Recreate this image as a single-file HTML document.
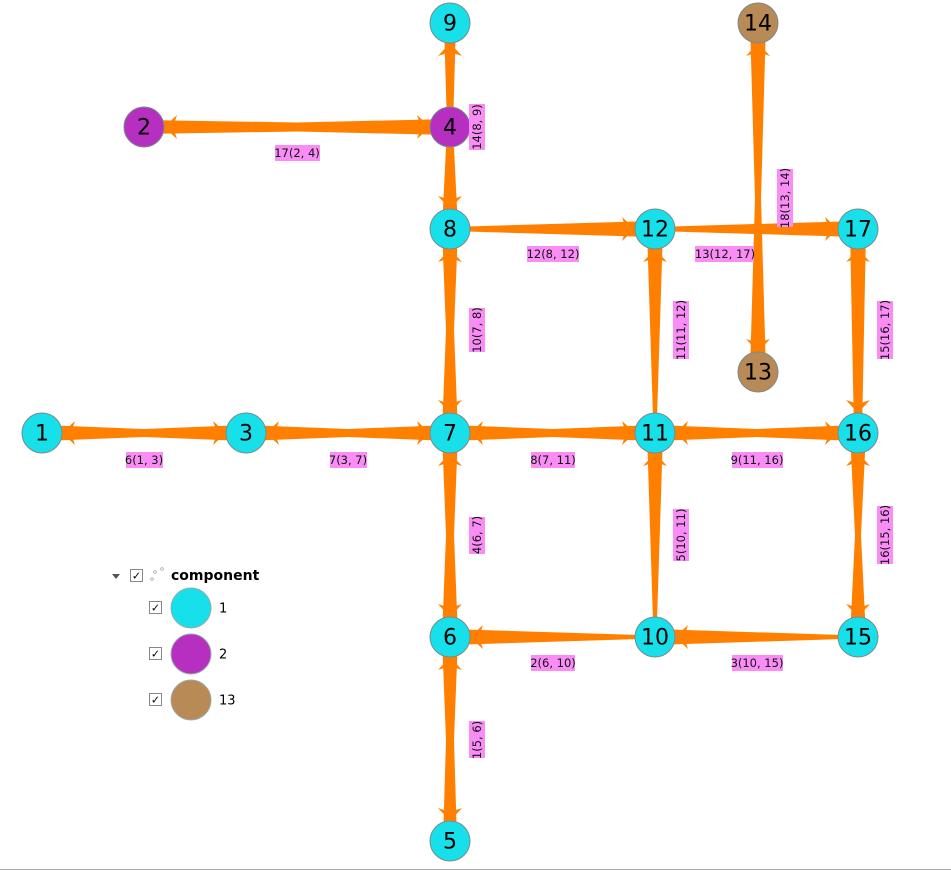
<!DOCTYPE html>
<html><head><meta charset="utf-8"><style>
html,body{margin:0;padding:0;background:#fff;width:951px;height:871px;overflow:hidden}
svg{display:block;font-family:"DejaVu Sans","Liberation Sans",sans-serif}
.n{stroke:#7a8a8c;stroke-width:1}
.nt{font-size:22px;text-anchor:middle;dominant-baseline:central;fill:#000}
.lb{font-size:11.5px;fill:#111;text-anchor:middle;dominant-baseline:central}
</style></head><body>
<svg width="951" height="871" viewBox="0 0 951 871">
<defs>
<polygon id="ah" points="0,0 -13,-12 -9,0 -13,12" fill="#ff8000"/>
</defs>
<g fill="#ff8000">
<polygon points="144,120 297,122.5 450,119 450,135 297,131.5 144,134"/>
<polygon points="42,425 144,429 246,425 246,441 144,437 42,441"/>
<polygon points="246,425 348,429 450,425 450,441 348,437 246,441"/>
<polygon points="450,425 553,429 655,425 655,441 553,437 450,441"/>
<polygon points="655,425 757,429 858,425 858,441 757,437 655,441"/>
<polygon points="450,227 655,221 655,237 450,231"/>
<polygon points="655,227 858,221 858,237 655,231"/>
<polygon points="450,629 655,635.5 655,638.5 450,645"/>
<polygon points="655,629 858,635.5 858,638.5 655,645"/>
<polygon points="444,23 447,127 442,229 458,229 453,127 456,23"/>
<polygon points="442,229 446,330 442,433 458,433 454,330 458,229"/>
<polygon points="442,433 446,535 442,637 458,637 454,535 458,433"/>
<polygon points="442,637 446,740 443,841 457,841 454,740 458,637"/>
<polygon points="653.5,433 647,229 663,229 656.5,433"/>
<polygon points="653.5,637 647,433 663,433 656.5,637"/>
<polygon points="750,23 755,198 750,372 766,372 761,198 766,23"/>
<polygon points="850,229 854,433 862,433 866,229"/>
<polygon points="850,433 855,535 850,637 866,637 861,535 866,433"/>
</g>
<g>
<use href="#ah" transform="translate(42,433) rotate(180) translate(-20,0)"/>
<use href="#ah" transform="translate(246,433) rotate(0) translate(-20,0)"/>
<use href="#ah" transform="translate(246,433) rotate(180) translate(-20,0)"/>
<use href="#ah" transform="translate(450,433) rotate(0) translate(-20,0)"/>
<use href="#ah" transform="translate(450,433) rotate(180) translate(-20,0)"/>
<use href="#ah" transform="translate(450,433) rotate(90) translate(-20,0)"/>
<use href="#ah" transform="translate(450,433) rotate(-90) translate(-20,0)"/>
<use href="#ah" transform="translate(655,433) rotate(0) translate(-20,0)"/>
<use href="#ah" transform="translate(655,433) rotate(180) translate(-20,0)"/>
<use href="#ah" transform="translate(655,433) rotate(-90) translate(-20,0)"/>
<use href="#ah" transform="translate(858,433) rotate(0) translate(-20,0)"/>
<use href="#ah" transform="translate(858,433) rotate(90) translate(-20,0)"/>
<use href="#ah" transform="translate(858,433) rotate(-90) translate(-20,0)"/>
<use href="#ah" transform="translate(144,127) rotate(180) translate(-20,0)"/>
<use href="#ah" transform="translate(450,127) rotate(0) translate(-20,0)"/>
<use href="#ah" transform="translate(450,23) rotate(-90) translate(-20,0)"/>
<use href="#ah" transform="translate(450,229) rotate(-90) translate(-20,0)"/>
<use href="#ah" transform="translate(450,229) rotate(90) translate(-20,0)"/>
<use href="#ah" transform="translate(655,229) rotate(0) translate(-20,0)"/>
<use href="#ah" transform="translate(655,229) rotate(-90) translate(-20,0)"/>
<use href="#ah" transform="translate(858,229) rotate(0) translate(-20,0)"/>
<use href="#ah" transform="translate(858,229) rotate(-90) translate(-20,0)"/>
<use href="#ah" transform="translate(758,23) rotate(-90) translate(-20,0)"/>
<use href="#ah" transform="translate(758,372) rotate(90) translate(-20,0)"/>
<use href="#ah" transform="translate(450,637) rotate(90) translate(-20,0)"/>
<use href="#ah" transform="translate(450,637) rotate(180) translate(-20,0)"/>
<use href="#ah" transform="translate(450,637) rotate(-90) translate(-20,0)"/>
<use href="#ah" transform="translate(655,637) rotate(180) translate(-20,0)"/>
<use href="#ah" transform="translate(858,637) rotate(90) translate(-20,0)"/>
<use href="#ah" transform="translate(450,841) rotate(90) translate(-20,0)"/>
</g>
<g class="n">
<circle cx="42" cy="433" r="20" fill="#17e0ea"/>
<circle cx="246" cy="433" r="20" fill="#17e0ea"/>
<circle cx="450" cy="433" r="20" fill="#17e0ea"/>
<circle cx="655" cy="433" r="20" fill="#17e0ea"/>
<circle cx="858" cy="433" r="20" fill="#17e0ea"/>
<circle cx="450" cy="23" r="20" fill="#17e0ea"/>
<circle cx="450" cy="127" r="20" fill="#b62fc0"/>
<circle cx="144" cy="127" r="20" fill="#b62fc0"/>
<circle cx="758" cy="23" r="20" fill="#b88a55"/>
<circle cx="450" cy="229" r="20" fill="#17e0ea"/>
<circle cx="655" cy="229" r="20" fill="#17e0ea"/>
<circle cx="858" cy="229" r="20" fill="#17e0ea"/>
<circle cx="758" cy="372" r="20" fill="#b88a55"/>
<circle cx="450" cy="637" r="20" fill="#17e0ea"/>
<circle cx="655" cy="637" r="20" fill="#17e0ea"/>
<circle cx="858" cy="637" r="20" fill="#17e0ea"/>
<circle cx="450" cy="841" r="20" fill="#17e0ea"/>
</g>
<g class="nt">
<text x="42" y="434">1</text><text x="246" y="434">3</text><text x="450" y="434">7</text>
<text x="655" y="434">11</text><text x="858" y="434">16</text><text x="450" y="24">9</text>
<text x="450" y="128">4</text><text x="144" y="128">2</text><text x="758" y="24">14</text>
<text x="450" y="230">8</text><text x="655" y="230">12</text><text x="858" y="230">17</text>
<text x="758" y="373">13</text><text x="450" y="638">6</text><text x="655" y="638">10</text>
<text x="858" y="638">15</text><text x="450" y="842">5</text>
</g>
<g fill="#f98cf5">
<rect x="275" y="145" width="45" height="16"/>
<rect x="126" y="452" width="37" height="16"/>
<rect x="330" y="452" width="37" height="16"/>
<rect x="531" y="452" width="44" height="16"/>
<rect x="732" y="452" width="51" height="16"/>
<rect x="527" y="246" width="52" height="16"/>
<rect x="695" y="246" width="59" height="16"/>
<rect x="531" y="655" width="44" height="16"/>
<rect x="732" y="655" width="51" height="16"/>
<rect x="469" y="104" width="16" height="46"/>
<rect x="469" y="308" width="16" height="44"/>
<rect x="673" y="301" width="16" height="58"/>
<rect x="777" y="169" width="16" height="58"/>
<rect x="877" y="301" width="16" height="58"/>
<rect x="469" y="517" width="16" height="37"/>
<rect x="673" y="509" width="16" height="52"/>
<rect x="877" y="506" width="16" height="58"/>
<rect x="469" y="721" width="16" height="37"/>
</g>
<g class="lb">
<text x="297" y="153">17(2, 4)</text>
<text x="144" y="460">6(1, 3)</text>
<text x="348" y="460">7(3, 7)</text>
<text x="553" y="460">8(7, 11)</text>
<text x="757" y="460">9(11, 16)</text>
<text x="553" y="254">12(8, 12)</text>
<text x="725" y="254">13(12, 17)</text>
<text x="553" y="663">2(6, 10)</text>
<text x="757" y="663">3(10, 15)</text>
<text transform="translate(477,127) rotate(-90)">14(8, 9)</text>
<text transform="translate(477,330) rotate(-90)">10(7, 8)</text>
<text transform="translate(681,330) rotate(-90)">11(11, 12)</text>
<text transform="translate(785,198) rotate(-90)">18(13, 14)</text>
<text transform="translate(885,330) rotate(-90)">15(16, 17)</text>
<text transform="translate(477,535) rotate(-90)">4(6, 7)</text>
<text transform="translate(681,535) rotate(-90)">5(10, 11)</text>
<text transform="translate(885,535) rotate(-90)">16(15, 16)</text>
<text transform="translate(477,740) rotate(-90)">1(5, 6)</text>
</g>
<!-- legend -->
<polygon points="112,574 120,574 116,579" fill="#555"/>
<rect x="130.5" y="569.5" width="12" height="12" fill="#fff" stroke="#888"/>
<text x="136.5" y="576" font-size="11" font-weight="bold" text-anchor="middle" dominant-baseline="central" fill="#000">✓</text>
<circle cx="152" cy="579" r="1.3" fill="none" stroke="#999" stroke-width="0.7"/>
<circle cx="155" cy="572" r="1.3" fill="none" stroke="#999" stroke-width="0.7"/>
<circle cx="162" cy="569" r="1.3" fill="none" stroke="#999" stroke-width="0.7"/>
<text x="171" y="576" font-size="14" font-weight="bold" dominant-baseline="central" fill="#000">component</text>
<g font-size="11" font-weight="bold" text-anchor="middle" dominant-baseline="central">
<rect x="149.5" y="601.5" width="12" height="12" fill="#fff" stroke="#888"/><text x="155.5" y="608">✓</text>
<rect x="149.5" y="647.5" width="12" height="12" fill="#fff" stroke="#888"/><text x="155.5" y="654">✓</text>
<rect x="149.5" y="693.5" width="12" height="12" fill="#fff" stroke="#888"/><text x="155.5" y="700">✓</text>
</g>
<circle cx="191" cy="608" r="20" fill="#17e0ea" stroke="#9aa" stroke-width="1"/>
<circle cx="191" cy="654" r="20" fill="#b62fc0" stroke="#9aa" stroke-width="1"/>
<circle cx="191" cy="700" r="20" fill="#b88a55" stroke="#9aa" stroke-width="1"/>
<g font-size="13" dominant-baseline="central" fill="#000">
<text x="219" y="609">1</text><text x="219" y="655">2</text><text x="219" y="701">13</text>
</g>
<line x1="0" y1="869.5" x2="951" y2="869.5" stroke="#aaa" stroke-width="1"/>
</svg>
</body></html>
